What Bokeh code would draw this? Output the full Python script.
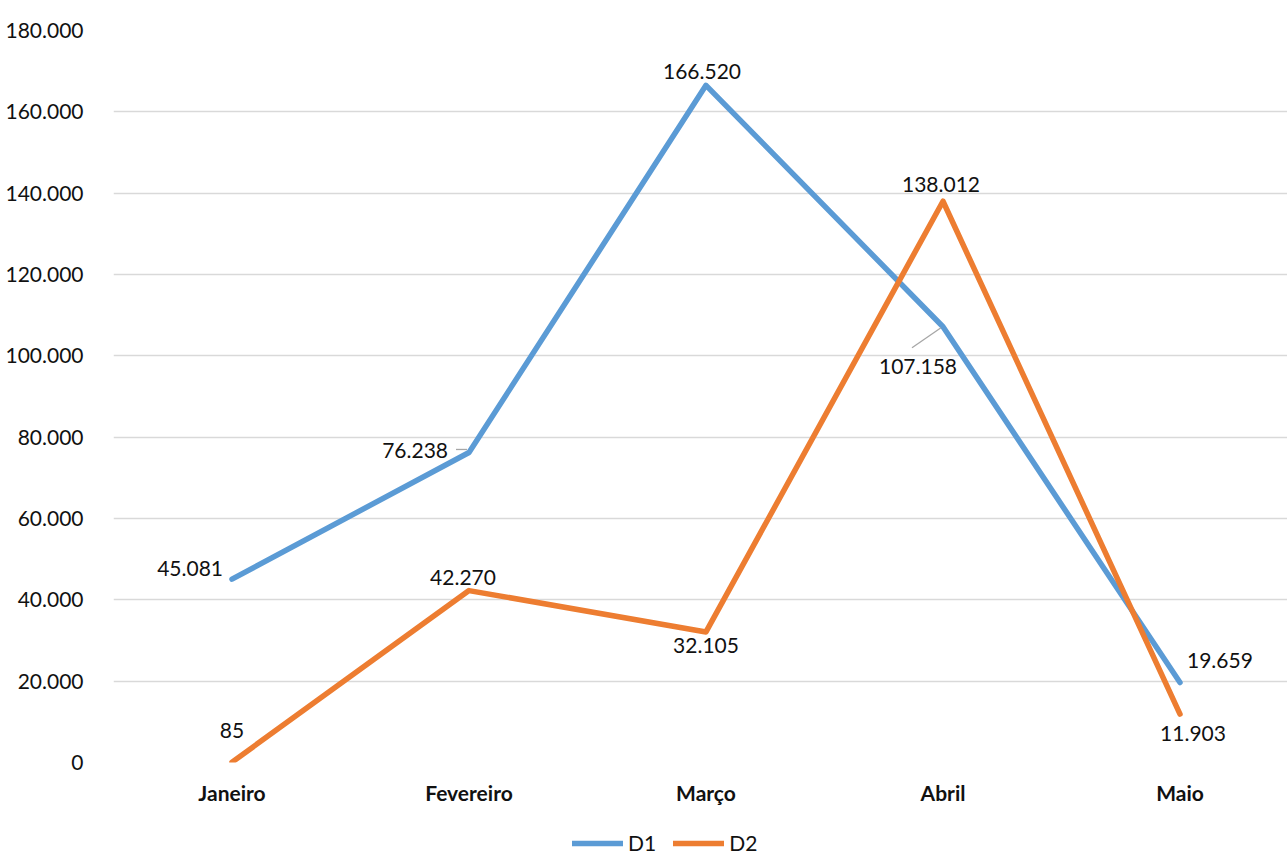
from bokeh.plotting import figure
from bokeh.layouts import column
from bokeh.models import (ColumnDataSource, Legend, LegendItem, CustomJSTickFormatter,
                          FixedTicker, Range1d)
from bokeh.core.properties import value
from bokeh.embed import file_html
from bokeh.resources import INLINE

# ---- data ----
months = ["Janeiro", "Fevereiro", "Março", "Abril", "Maio"]
d1 = [45081, 76238, 166520, 107158, 19659]
d2 = [85, 42270, 32105, 138012, 11903]
series_names = ["D1", "D2"]
y_ticks = [0, 20000, 40000, 60000, 80000, 100000, 120000, 140000, 160000, 180000]

# ---- styles ----
BLUE = "#5B9BD5"
ORANGE = "#ED7D31"
FONT = "Lato"
TXT = "#111111"
FS = "21px"
LW = 5.5

# label placement (screen px offsets, style only)
d1_off = [(-9, -11, "right"), (-21, -2, "right"), (-4, -14, "center"), (-25, 40, "center"), (7, -22, "left")]
d2_off = [(0, -32, "center"), (-6, -13, "center"), (0, 14, "center"), (-2, -17, "center"), (13, 19, "center")]

def fmt(v):
    return f"{v:,}".replace(",", ".")

xs = list(range(len(months)))
X_END = 4.4536

p = figure(width=1287, height=810, output_backend="svg", toolbar_location=None,
           x_range=Range1d(-0.5, X_END), y_range=Range1d(0, 180000),
           min_border_left=113, min_border_right=0, min_border_top=30, min_border_bottom=48)
p.outline_line_color = None
p.background_fill_color = "white"
p.border_fill_color = "white"

# grid
p.xgrid.grid_line_color = None
p.ygrid.grid_line_color = "#D9D9D9"
p.ygrid.grid_line_width = 1.3
p.ygrid.ticker = FixedTicker(ticks=y_ticks)

# y axis
p.yaxis.ticker = FixedTicker(ticks=y_ticks)
p.yaxis.formatter = CustomJSTickFormatter(code="""
    return Math.round(tick).toString().replace(/\\B(?=(\\d{3})+(?!\\d))/g, ".");
""")
p.yaxis.axis_line_color = None
p.yaxis.major_tick_line_color = None
p.yaxis.minor_tick_line_color = None
p.yaxis.major_label_standoff = 24
p.yaxis.major_label_text_font = FONT
p.yaxis.major_label_text_font_size = FS
p.yaxis.major_label_text_color = TXT

# x axis
p.xaxis.ticker = FixedTicker(ticks=xs)
p.xaxis.major_label_overrides = {i: m for i, m in enumerate(months)}
p.xaxis.axis_line_color = None
p.xaxis.major_tick_line_color = None
p.xaxis.minor_tick_line_color = None
p.xaxis.major_label_standoff = 11
p.xaxis.major_label_text_font = FONT
p.xaxis.major_label_text_font_size = FS
p.xaxis.major_label_text_font_style = "bold"
p.xaxis.major_label_text_color = TXT

p.line(xs, d1, line_color=BLUE, line_width=LW, line_cap="round", line_join="round")
p.line(xs, d2, line_color=ORANGE, line_width=LW, line_cap="round", line_join="round")

# data labels
for vals, offs in ((d1, d1_off), (d2, d2_off)):
    for align in ("left", "center", "right"):
        idx = [i for i, o in enumerate(offs) if o[2] == align]
        if not idx:
            continue
        src = ColumnDataSource(dict(
            x=[xs[i] for i in idx], y=[vals[i] for i in idx],
            t=[fmt(vals[i]) for i in idx],
            xo=[offs[i][0] for i in idx], yo=[offs[i][1] for i in idx]))
        p.text(x="x", y="y", text="t", x_offset="xo", y_offset="yo", source=src,
               text_align=align, text_baseline="middle", text_font=value(FONT),
               text_font_size=FS, text_color=TXT)

# leader lines (pixel offsets from the point, converted to data units; +y = down)
px_x = 1174 / (X_END + 0.5)
px_y = 732 / 180000
leaders = [(1, d1, (-13, -3), (-2, -3)), (3, d1, (-31, 21), (-2, 1))]
for i, vals, a, b in leaders:
    p.segment(x0=[xs[i] + a[0] / px_x], y0=[vals[i] - a[1] / px_y],
              x1=[xs[i] + b[0] / px_x], y1=[vals[i] - b[1] / px_y],
              line_color="#A6A6A6", line_width=1.3)

# legend strip below the chart (its series lines fall outside its tiny range, only the legend shows)
lg = figure(width=1287, height=45, output_backend="svg", toolbar_location=None,
            x_range=Range1d(-1, -0.5), y_range=Range1d(-1, -0.5),
            min_border_left=113, min_border_right=0, min_border_top=0, min_border_bottom=0)
lg.outline_line_color = None
lg.axis.visible = False
lg.grid.grid_line_color = None
lr1 = lg.line(xs, d1, line_color=BLUE, line_width=LW, line_cap="round")
lr2 = lg.line(xs, d2, line_color=ORANGE, line_width=LW, line_cap="round")
legend = Legend(items=[LegendItem(label=series_names[0], renderers=[lr1]),
                       LegendItem(label=series_names[1], renderers=[lr2])],
                orientation="horizontal", location=(459, 0),
                glyph_width=51, glyph_height=20, label_standoff=5, spacing=17,
                label_text_font=FONT, label_text_font_size=FS, label_text_color=TXT,
                border_line_color=None, background_fill_alpha=0,
                padding=0, margin=0)
lg.add_layout(legend, "center")

layout = column(p, lg, spacing=0)
open("out.html", "w").write(file_html(layout, INLINE))
